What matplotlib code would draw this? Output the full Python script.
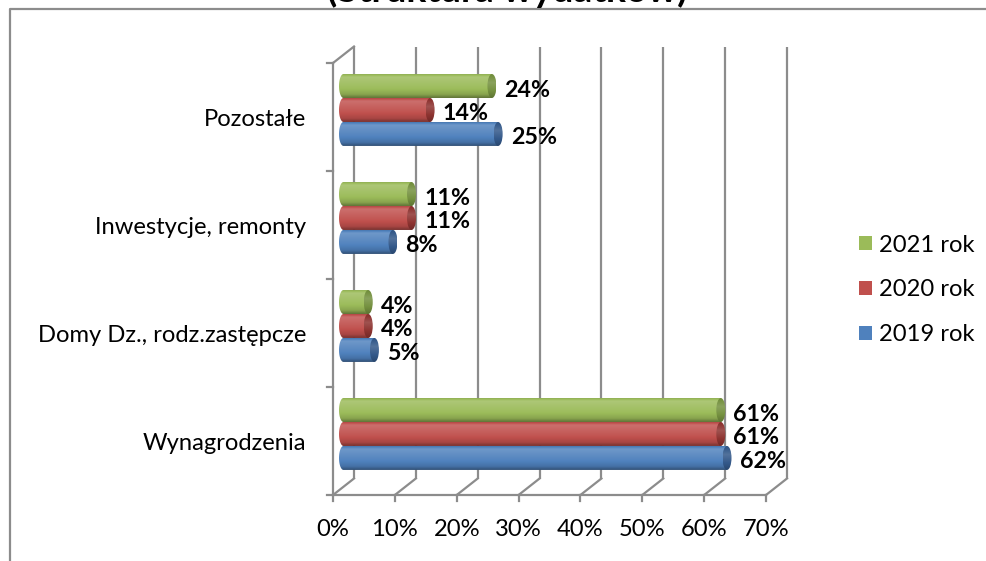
import numpy as np
import matplotlib
matplotlib.use('Agg')
import matplotlib.pyplot as plt
from matplotlib.patches import PathPatch, Ellipse, Patch
from matplotlib.path import Path
from matplotlib.lines import Line2D
from matplotlib.colors import to_rgb

# ---------------- data ----------------
categories = ['Wynagrodzenia', 'Domy Dz., rodz.zastępcze', 'Inwestycje, remonty', 'Pozostałe']
series_names = ['2019 rok', '2020 rok', '2021 rok']
values_2019 = [0.62, 0.05, 0.08, 0.25]
values_2020 = [0.61, 0.04, 0.11, 0.14]
values_2021 = [0.61, 0.04, 0.11, 0.24]
x_ticks = [0.0, 0.1, 0.2, 0.3, 0.4, 0.5, 0.6, 0.7]
x_tick_labels = ['0%', '10%', '20%', '30%', '40%', '50%', '60%', '70%']
title = '(Struktura wydatków)'

series_values = [values_2019, values_2020, values_2021]
colors = ['#4F81BD', '#C0504D', '#9BBB59']
cap_colors = ['#34598A', '#8E3431', '#759140']
FONT = ['Lato', 'DejaVu Sans']
gridc = '#8C8C8C'

W, H = 987, 561
fig = plt.figure(figsize=(W / 100, H / 100), dpi=100)
plt.rcParams['font.family'] = FONT

def fit_size(text, target_px, weight='normal'):
    t = fig.text(0, 0, text, fontsize=20, weight=weight)
    r = fig.canvas.get_renderer()
    w = t.get_window_extent(r).width
    t.remove()
    return 20 * target_px / w

fs = fit_size('Wynagrodzenia', 164)
fs_lab = fit_size('24%', 46, 'bold')
fs_title = fit_size(title, 361, 'bold')
fs_px = fs / 0.72

ax = fig.add_axes([333 / W, (H - 495) / H, (766 - 333) / W, (495 - 63) / H])
ax.set_xlim(0, 0.7)
ax.set_ylim(-0.5, 3.5)
for s in ax.spines.values():
    s.set_visible(False)
ax.patch.set_alpha(0)

px_x = 0.7 / 433
px_y = 4.0 / 432
ddx = 21 * px_x
ddy = 16.5 * px_y

lw = 1.6
# back wall gridlines, floor diagonals, front ticks
for t in x_ticks:
    ax.plot([t + ddx, t + ddx], [-0.5 + ddy, 3.5 + ddy], color=gridc, lw=lw, zorder=1, clip_on=False,
            solid_capstyle='butt')
    ax.plot([t, t + ddx], [-0.5, -0.5 + ddy], color=gridc, lw=lw, zorder=1, clip_on=False)
    ax.plot([t, t], [-0.5, -0.5 - 6 * px_y], color=gridc, lw=lw, zorder=1, clip_on=False)
ax.plot([0, 0.7], [-0.5, -0.5], color=gridc, lw=lw, zorder=1, clip_on=False)
ax.plot([0, 0], [-0.5, 3.5], color=gridc, lw=lw, zorder=1, clip_on=False)
ax.plot([0, ddx], [3.5, 3.5 + ddy], color=gridc, lw=lw, zorder=1, clip_on=False)
for yb in [-0.5, 0.5, 1.5, 2.5, 3.5]:
    ax.plot([-6 * px_x, 0], [yb, yb], color=gridc, lw=lw, zorder=1, clip_on=False)

ax.set_xticks(x_ticks, x_tick_labels)
ax.set_yticks(range(len(categories)), categories)
ax.tick_params(axis='x', length=0, pad=17, labelsize=fs)
ax.tick_params(axis='y', length=0, pad=19, labelsize=fs)
for lab in ax.get_yticklabels():
    lab.set_y(lab.get_position()[1])

def shade(base, k):
    b = np.array(to_rgb(base))
    if k >= 1:
        return b + (1 - b) * (k - 1)
    return b * k

def gradient(base, prof):
    return np.array([shade(base, k) for k in prof])[:, None, :]

prof_body = np.interp(np.linspace(0, 1, 64), [0, 0.12, 0.3, 0.6, 0.85, 1.0],
                      [0.92, 1.18, 1.12, 1.02, 0.88, 0.62])
prof_cap = np.interp(np.linspace(0, 1, 64), [0, 0.35, 0.7, 1.0], [0.95, 1.15, 1.0, 0.8])

bar_h = 0.222
offsets = [-0.157, 0.065, 0.287]
x0 = ddx / 2
rx = 4.5 * px_x
theta = np.linspace(np.pi / 2, 3 * np.pi / 2, 40)

for si in [2, 1, 0]:
    z = 3 + (2 - si) * 1.0
    for ci, v in enumerate(series_values[si]):
        y = ci + offsets[si]
        verts = [(x0, y - bar_h / 2), (x0 + v, y - bar_h / 2), (x0 + v, y + bar_h / 2), (x0, y + bar_h / 2)]
        verts += [(x0 + rx * np.cos(a), y + bar_h / 2 * np.sin(a)) for a in theta]
        verts.append(verts[0])
        body = PathPatch(Path(verts, closed=True), fc='none', ec='none', zorder=z)
        ax.add_patch(body)
        im = ax.imshow(gradient(colors[si], prof_body), extent=[x0 - rx, x0 + v, y - bar_h / 2, y + bar_h / 2],
                       aspect='auto', origin='upper', zorder=z, interpolation='bilinear')
        im.set_clip_path(body)
        cap = Ellipse((x0 + v, y), 2 * rx, bar_h, fc='none', ec='none', zorder=z + 0.1)
        ax.add_patch(cap)
        im2 = ax.imshow(gradient(cap_colors[si], prof_cap),
                        extent=[x0 + v - rx, x0 + v + rx, y - bar_h / 2, y + bar_h / 2],
                        aspect='auto', origin='upper', zorder=z + 0.1, interpolation='bilinear')
        im2.set_clip_path(cap)
        ax.text(x0 + v + rx + 8 * px_x, y - 4 * px_y, f'{round(v * 100)}%', ha='left', va='center',
                fontsize=fs_lab, fontweight='bold', color='black', zorder=z + 0.5, clip_on=False)

ax.set_xlim(0, 0.7)
ax.set_ylim(-0.5, 3.5)

# legend
handles = [Patch(fc=colors[i], ec='none') for i in [2, 1, 0]]
labels = [series_names[i] for i in [2, 1, 0]]
hp = 13 * 0.72 / fs
fig.legend(handles, labels, loc='center left', bbox_to_anchor=(859 / W, 1 - 290 / H), frameon=False,
           fontsize=fs, handlelength=hp, handleheight=hp, handletextpad=0.3, labelspacing=1.0,
           borderpad=0, borderaxespad=0)

# title (partly cut off at top)
fig.text(507 / W, 1 - 2.5 / H, title, ha='center', va='baseline', fontsize=fs_title, fontweight='bold')

# chart frame
fig.add_artist(Line2D([10 / W, 10 / W, 1.0], [0.0, 1 - 9 / H, 1 - 9 / H], transform=fig.transFigure,
                      color='#8C8C8C', lw=1.6))

fig.savefig('out.png', dpi=100)
